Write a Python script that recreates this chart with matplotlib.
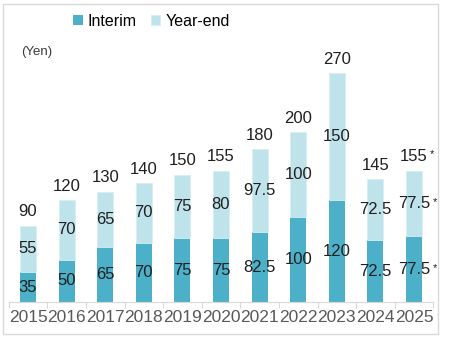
import matplotlib
matplotlib.use("Agg")
import matplotlib.pyplot as plt
from matplotlib.patches import Rectangle
import numpy as np

plt.rcParams['font.family'] = ['Liberation Sans', 'DejaVu Sans']

years = ["2015", "2016", "2017", "2018", "2019", "2020", "2021", "2022", "2023", "2024", "2025"]
interim = [35, 50, 65, 70, 75, 75, 82.5, 100, 120, 72.5, 77.5]
year_end = [55, 70, 65, 70, 75, 80, 97.5, 100, 150, 72.5, 77.5]
forecast = [False] * 10 + [True]

c_interim = "#4BB0C8"
c_year_end = "#BEE3EB"
txt = "#1f1f1f"

fig = plt.figure(figsize=(4.52, 3.42), dpi=100)
ax = fig.add_axes([8.7 / 452, 40 / 342, 424.6 / 452, 254.5 / 342])

x = np.arange(len(years))
totals = [a + b for a, b in zip(interim, year_end)]
ax.bar(x, interim, width=0.415, color=c_interim, label="Interim")
ax.bar(x, year_end, width=0.415, bottom=interim, color=c_year_end,
       edgecolor="#d6eef3", linewidth=0.6, label="Year-end")


def fmt(v):
    return f"{v:g}"


for i in x:
    ax.text(i, interim[i] / 2, fmt(interim[i]), ha="center", va="center",
            fontsize=12, color=txt)
    ax.text(i, interim[i] + year_end[i] / 2, fmt(year_end[i]), ha="center",
            va="center", fontsize=12, color=txt)
    ax.annotate(fmt(totals[i]), (i, totals[i]), xytext=(0, 10),
                textcoords="offset points", ha="center", va="center",
                fontsize=12, color=txt)
    if forecast[i]:
        # forecast marks next to each label
        for yv in [interim[i] / 2, interim[i] + year_end[i] / 2]:
            ax.annotate("*", (i, yv), xytext=(15, 1), textcoords="offset points",
                        ha="center", va="center", fontsize=8, color=txt)
        ax.annotate("*", (i, totals[i]), xytext=(13, 12),
                    textcoords="offset points", ha="center", va="center",
                    fontsize=8, color=txt)

ax.set_xlim(-0.5, len(years) - 0.5)
ax.set_ylim(0, 300)
ax.set_xticks(x)
ax.set_xticklabels(years)
ax.set_xticks(np.arange(-0.5, len(years)), minor=True)
ax.tick_params(axis="x", which="major", length=0, pad=6, labelsize=12.5,
               labelcolor="#595959")
ax.tick_params(axis="x", which="minor", length=4, color="#d9d9d9", width=0.8)
ax.set_yticks([])
for s in ["top", "right", "left"]:
    ax.spines[s].set_visible(False)
ax.spines["bottom"].set_color("#d9d9d9")

ax.legend(loc="center left", bbox_to_anchor=(73 / 452, 1 - 21 / 342),
          bbox_transform=fig.transFigure, ncol=2, frameon=False,
          fontsize=11.5, handlelength=0.6, handleheight=0.6,
          handletextpad=0.3, columnspacing=0.9, borderpad=0, borderaxespad=0)

fig.text(21 / 452, 1 - 52 / 342, "(Yen)", fontsize=9.5, color="#3a3a3a",
         va="center", ha="left")

fig.patches.append(Rectangle((3 / 452, 8 / 342), 435 / 452, 330 / 342,
                             transform=fig.transFigure, fill=False,
                             edgecolor="#d9d9d9", linewidth=1))

fig.savefig("out.png", dpi=100)
